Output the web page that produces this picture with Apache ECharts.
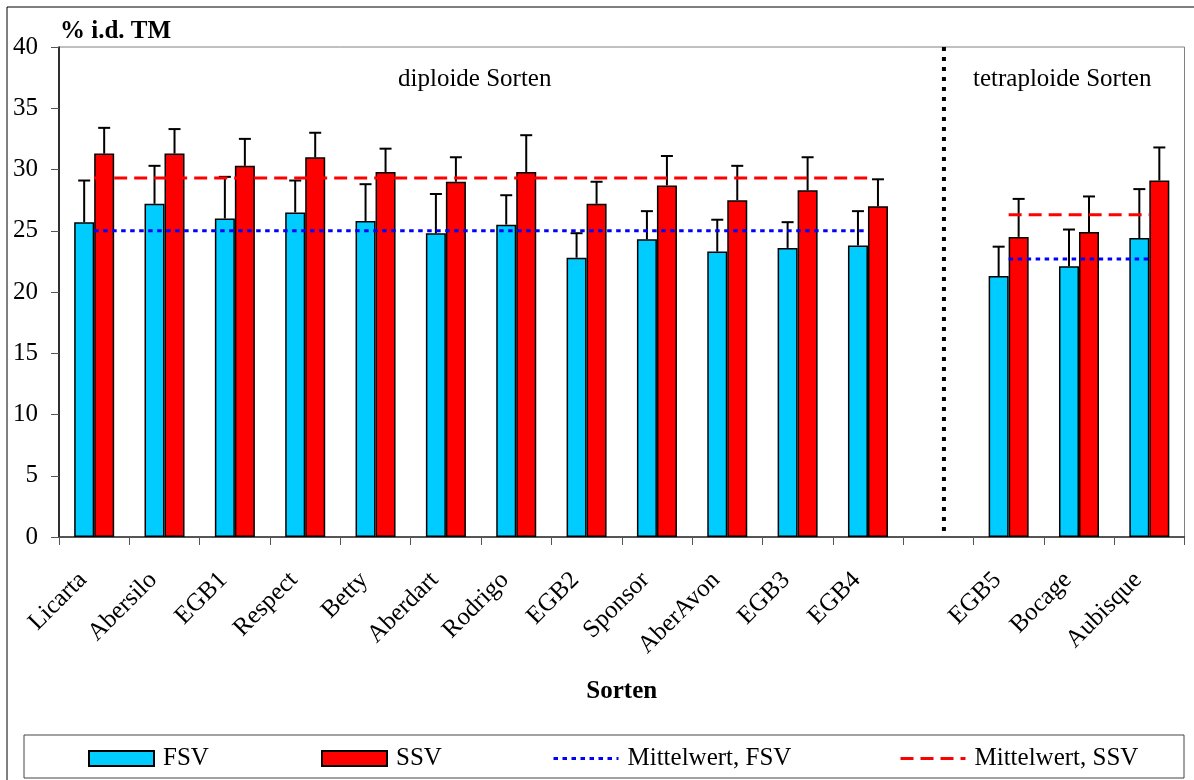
<!DOCTYPE html>
<html>
<head>
<meta charset="utf-8">
<script src="https://cdn.jsdelivr.net/npm/echarts@6/dist/echarts.min.js"></script>
<style>
  html, body { margin: 0; padding: 0; background: #fff; }
  #chart { width: 1194px; height: 780px; }
</style>
</head>
<body>
<div id="chart"></div>
<script>
// Grass varieties (diploid group, empty slot, tetraploid group)
const categories = ['Licarta', 'Abersilo', 'EGB1', 'Respect', 'Betty', 'Aberdart', 'Rodrigo',
  'EGB2', 'Sponsor', 'AberAvon', 'EGB3', 'EGB4', '', 'EGB5', 'Bocage', 'Aubisque'];

// Means (% of dry matter) and standard deviations
const fsv   = [25.7, 27.2, 26.0, 26.5, 25.8, 24.8, 25.5, 22.8, 24.3, 23.3, 23.6, 23.8, null, 21.3, 22.1, 24.4];
const fsvSd = [3.4, 3.1, 3.4, 2.6, 3.0, 3.2, 2.4, 2.0, 2.3, 2.6, 2.1, 2.8, null, 2.4, 3.0, 4.0];
const ssv   = [31.3, 31.3, 30.3, 31.0, 29.8, 29.0, 29.8, 27.2, 28.7, 27.5, 28.3, 27.0, null, 24.5, 24.9, 29.1];
const ssvSd = [2.1, 2.0, 2.2, 2.0, 1.9, 2.0, 3.0, 1.8, 2.4, 2.8, 2.7, 2.2, null, 3.1, 2.9, 2.7];

// Group means (diploid, tetraploid) and the category range each group spans
const groupNames = ['diploide Sorten', 'tetraploide Sorten'];
const groupFirst = [0, 13];
const groupLast  = [11, 15];
const meanFsv = [25.0, 22.7];
const meanSsv = [29.3, 26.3];

// Separator between the two groups, in category units
const separatorAt = 12.58;

const yTicks = { min: 0, max: 40, interval: 5 };

const FONT = "'Liberation Serif', 'Times New Roman', serif";
const BAR_W = 20;
const CAP = 6;

function groupLine(means) {
  return categories.map((c, i) => {
    for (let g = 0; g < means.length; g++) {
      if (i >= groupFirst[g] && i <= groupLast[g]) return means[g];
    }
    return '-';
  });
}

function errData(vals, sds) {
  const out = [];
  vals.forEach((v, i) => { if (v != null) out.push([i, v, sds[i]]); });
  return out;
}

function errRender(side) {
  return function (params, api) {
    const i = api.value(0), v = api.value(1), sd = api.value(2);
    const base = api.coord([i, v]);
    const top = api.coord([i, v + sd]);
    const x = base[0] + side * BAR_W / 2;
    return {
      type: 'group',
      children: [
        { type: 'line', shape: { x1: x, y1: base[1], x2: x, y2: top[1] }, style: { stroke: '#000', lineWidth: 2 } },
        { type: 'line', shape: { x1: x - CAP, y1: top[1], x2: x + CAP, y2: top[1] }, style: { stroke: '#000', lineWidth: 2 } }
      ]
    };
  };
}

const chart = echarts.init(document.getElementById('chart'), null, { renderer: 'canvas' });

const legendBase = {
  orient: 'horizontal', top: 741, itemWidth: 65, itemHeight: 15, itemGap: 0,
  textStyle: { fontFamily: FONT, fontSize: 25, color: '#000', padding: [0, 0, 0, 4] }
};

chart.setOption({
  animation: false,
  backgroundColor: '#fff',
  textStyle: { fontFamily: FONT },
  grid: { left: 59, right: 9.5, top: 47, height: 490, show: true, borderColor: '#808080', borderWidth: 1, backgroundColor: 'transparent' },
  xAxis: [{
    type: 'category',
    data: categories,
    boundaryGap: true,
    axisLine: { show: true, lineStyle: { color: '#333', width: 1.5 } },
    axisTick: { show: true, length: 8, lineStyle: { color: '#555' } },
    axisLabel: { rotate: 45, margin: 28, padding: [0, 16, 0, 0], fontFamily: FONT, fontSize: 25, color: '#000', interval: 0 },
    name: 'Sorten',
    nameLocation: 'middle',
    nameGap: 155,
    nameTextStyle: { fontFamily: FONT, fontSize: 25, fontWeight: 'bold', color: '#000', verticalAlign: 'middle' }
  }, {
    type: 'value', min: 0, max: categories.length, show: false
  }],
  yAxis: {
    type: 'value',
    min: yTicks.min, max: yTicks.max, interval: yTicks.interval,
    axisLine: { show: true, lineStyle: { color: '#000', width: 1.5 } },
    axisTick: { show: true, length: 8, lineStyle: { color: '#555' } },
    axisLabel: { margin: 21, fontFamily: FONT, fontSize: 25, color: '#000' },
    splitLine: { show: false },
    name: '% i.d. TM',
    nameLocation: 'end',
    nameGap: 15,
    nameTextStyle: { fontFamily: FONT, fontSize: 25, fontWeight: 'bold', color: '#000', align: 'left', verticalAlign: 'middle', padding: [0, 0, 0, 1] }
  },
  legend: [
    Object.assign({}, legendBase, { left: 83, data: [{ name: 'FSV', icon: 'rect' }] }),
    Object.assign({}, legendBase, { left: 316, data: [{ name: 'SSV', icon: 'rect' }] }),
    Object.assign({}, legendBase, { left: 547, data: ['Mittelwert, FSV'], itemStyle: { opacity: 0 }, lineStyle: { width: 3 } }),
    Object.assign({}, legendBase, { left: 894, data: ['Mittelwert, SSV'], itemStyle: { opacity: 0 }, lineStyle: { width: 3 } })
  ],
  graphic: [
    { type: 'rect', shape: { x: 7, y: 7, width: 1400, height: 1000 }, style: { fill: 'none', stroke: '#000', lineWidth: 1 }, silent: true, z: -1 },
    { type: 'rect', shape: { x: 24, y: 735, width: 1160, height: 43 }, style: { fill: '#fff', stroke: '#444', lineWidth: 1 }, silent: true, z: -1 },
    { type: 'text', left: 398, top: 67, style: { text: groupNames[0], font: "25px " + FONT, fill: '#000' } },
    { type: 'text', left: 973, top: 67, style: { text: groupNames[1], font: "25px " + FONT, fill: '#000' } }
  ],
  series: [
    {
      name: 'FSV', type: 'bar', data: fsv, barWidth: BAR_W, barGap: '0%', z: 2,
      itemStyle: { color: '#00CCFF', borderColor: '#000', borderWidth: 1.5 }
    },
    {
      name: 'SSV', type: 'bar', data: ssv, barWidth: BAR_W, barGap: '0%', z: 2,
      itemStyle: { color: '#FF0000', borderColor: '#000', borderWidth: 1.5 }
    },
    {
      name: 'FSV-sd', type: 'custom', data: errData(fsv, fsvSd), renderItem: errRender(-1), z: 3,
      encode: { x: 0, y: 1 }
    },
    {
      name: 'SSV-sd', type: 'custom', data: errData(ssv, ssvSd), renderItem: errRender(1), z: 3,
      encode: { x: 0, y: 1 }
    },
    {
      name: 'Mittelwert, FSV', type: 'line', data: groupLine(meanFsv), symbol: 'none', z: 4,
      connectNulls: false,
      lineStyle: { color: '#0000FF', width: 3, type: [4.5, 4.5], cap: 'butt' },
      itemStyle: { color: '#0000FF' }
    },
    {
      name: 'Mittelwert, SSV', type: 'line', data: groupLine(meanSsv), symbol: 'none', z: 4,
      connectNulls: false,
      lineStyle: { color: '#FF0000', width: 3, type: [13, 7], cap: 'butt' },
      itemStyle: { color: '#FF0000' }
    },
    {
      name: 'Trennlinie', type: 'line', xAxisIndex: 1, clip: false, symbol: 'none', z: 4,
      data: [[separatorAt, 0.5], [separatorAt, 40.35]],
      lineStyle: { color: '#000', width: 4, type: [4, 6], cap: 'butt' }
    }
  ]
});
</script>
</body>
</html>
